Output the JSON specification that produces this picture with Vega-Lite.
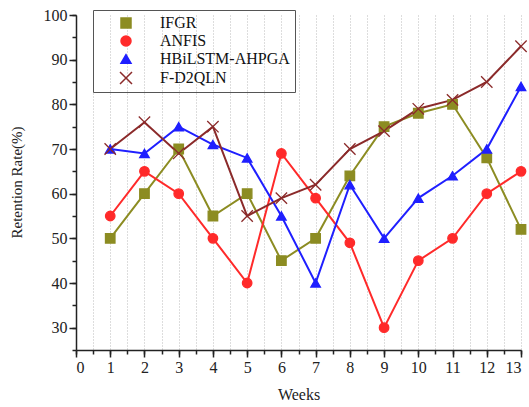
{
  "$schema": "https://vega.github.io/schema/vega-lite/v6.json",
  "width": 445,
  "height": 335,
  "autosize": {"type": "none"},
  "padding": {"left": 76, "top": 15, "right": 8, "bottom": 57},
  "background": "white",
  "config": {
    "view": {"stroke": null},
    "font": "Liberation Serif",
    "axis": {"labelFont": "Liberation Serif", "titleFont": "Liberation Serif", "labelColor": "#222", "titleColor": "#222", "titleFontWeight": "normal"}
  },
  "data": {
    "values": [
      {"week": 1, "model": "IFGR", "rate": 50}, {"week": 2, "model": "IFGR", "rate": 60}, {"week": 3, "model": "IFGR", "rate": 70}, {"week": 4, "model": "IFGR", "rate": 55}, {"week": 5, "model": "IFGR", "rate": 60}, {"week": 6, "model": "IFGR", "rate": 45}, {"week": 7, "model": "IFGR", "rate": 50}, {"week": 8, "model": "IFGR", "rate": 64}, {"week": 9, "model": "IFGR", "rate": 75}, {"week": 10, "model": "IFGR", "rate": 78}, {"week": 11, "model": "IFGR", "rate": 80}, {"week": 12, "model": "IFGR", "rate": 68}, {"week": 13, "model": "IFGR", "rate": 52},
      {"week": 1, "model": "ANFIS", "rate": 55}, {"week": 2, "model": "ANFIS", "rate": 65}, {"week": 3, "model": "ANFIS", "rate": 60}, {"week": 4, "model": "ANFIS", "rate": 50}, {"week": 5, "model": "ANFIS", "rate": 40}, {"week": 6, "model": "ANFIS", "rate": 69}, {"week": 7, "model": "ANFIS", "rate": 59}, {"week": 8, "model": "ANFIS", "rate": 49}, {"week": 9, "model": "ANFIS", "rate": 30}, {"week": 10, "model": "ANFIS", "rate": 45}, {"week": 11, "model": "ANFIS", "rate": 50}, {"week": 12, "model": "ANFIS", "rate": 60}, {"week": 13, "model": "ANFIS", "rate": 65},
      {"week": 1, "model": "HBiLSTM-AHPGA", "rate": 70}, {"week": 2, "model": "HBiLSTM-AHPGA", "rate": 69}, {"week": 3, "model": "HBiLSTM-AHPGA", "rate": 75}, {"week": 4, "model": "HBiLSTM-AHPGA", "rate": 71}, {"week": 5, "model": "HBiLSTM-AHPGA", "rate": 68}, {"week": 6, "model": "HBiLSTM-AHPGA", "rate": 55}, {"week": 7, "model": "HBiLSTM-AHPGA", "rate": 40}, {"week": 8, "model": "HBiLSTM-AHPGA", "rate": 62}, {"week": 9, "model": "HBiLSTM-AHPGA", "rate": 50}, {"week": 10, "model": "HBiLSTM-AHPGA", "rate": 59}, {"week": 11, "model": "HBiLSTM-AHPGA", "rate": 64}, {"week": 12, "model": "HBiLSTM-AHPGA", "rate": 70}, {"week": 13, "model": "HBiLSTM-AHPGA", "rate": 84},
      {"week": 1, "model": "F-D2QLN", "rate": 70}, {"week": 2, "model": "F-D2QLN", "rate": 76}, {"week": 3, "model": "F-D2QLN", "rate": 69}, {"week": 4, "model": "F-D2QLN", "rate": 75}, {"week": 5, "model": "F-D2QLN", "rate": 55}, {"week": 6, "model": "F-D2QLN", "rate": 59}, {"week": 7, "model": "F-D2QLN", "rate": 62}, {"week": 8, "model": "F-D2QLN", "rate": 70}, {"week": 9, "model": "F-D2QLN", "rate": 74}, {"week": 10, "model": "F-D2QLN", "rate": 79}, {"week": 11, "model": "F-D2QLN", "rate": 81}, {"week": 12, "model": "F-D2QLN", "rate": 85}, {"week": 13, "model": "F-D2QLN", "rate": 93}
    ]
  },
  "layer": [
    {
      "mark": {"type": "line", "strokeWidth": 2},
      "encoding": {
        "x": {"field": "week", "type": "quantitative", "scale": {"domain": [0, 13], "nice": false},
          "axis": {"orient": "bottom", "values": [0,0.5,1,1.5,2,2.5,3,3.5,4,4.5,5,5.5,6,6.5,7,7.5,8,8.5,9,9.5,10,10.5,11,11.5,12,12.5,13], "labels": false, "domain": false, "tickSize": 4, "tickWidth": 1.5, "tickColor": "#222", "grid": true, "gridDash": [1, 2], "gridColor": "#bbbbbb", "gridWidth": 1, "title": null}},
        "y": {"field": "rate", "type": "quantitative", "scale": {"domain": [25, 100], "nice": false, "zero": false},
          "axis": {"orient": "left", "values": [25,30,35,40,45,50,55,60,65,70,75,80,85,90,95,100], "labels": false, "domain": false, "tickSize": 4, "tickWidth": 1.5, "tickColor": "#222", "grid": false, "title": null}},
        "color": {"field": "model", "type": "nominal", "scale": {"domain": ["IFGR", "ANFIS", "HBiLSTM-AHPGA", "F-D2QLN"], "range": ["#8c8c22", "#ff2a2a", "#1f1fff", "#8b2a2a"]}}
      }
    },
    {
      "mark": {"type": "point", "filled": true, "opacity": 1, "strokeWidth": 1.3},
      "encoding": {
        "x": {"field": "week", "type": "quantitative",
          "axis": {"orient": "bottom", "values": [0,1,2,3,4,5,6,7,8,9,10,11,12,13], "tickSize": 7, "tickWidth": 1.5, "tickColor": "#222", "domainColor": "#222", "domainWidth": 1.5, "labelFontSize": 16, "labelPadding": 2, "grid": false, "title": "Weeks", "titleFontSize": 16, "titlePadding": 11}},
        "y": {"field": "rate", "type": "quantitative",
          "axis": {"orient": "left", "values": [30,40,50,60,70,80,90,100], "tickSize": 7, "tickWidth": 1.5, "tickColor": "#222", "domainColor": "#222", "domainWidth": 1.5, "labelFontSize": 16, "labelPadding": 2, "grid": false, "title": "Retention Rate(%)", "titleFontSize": 15, "titleX": -52, "titleY": 167}},
        "color": {"field": "model", "type": "nominal",
          "legend": {
            "title": null, "orient": "none", "legendX": 17, "legendY": -5,
            "strokeColor": "#555", "padding": 5, "labelFont": "Liberation Serif", "labelFontSize": 16, "labelColor": "#111",
            "symbolSize": 100, "symbolOffset": 20, "labelOffset": 26, "rowPadding": 2, "symbolOpacity": 1
          }},
        "stroke": {"field": "model", "type": "nominal", "scale": {"domain": ["IFGR", "ANFIS", "HBiLSTM-AHPGA", "F-D2QLN"], "range": ["#8c8c22", "#ff2a2a", "#1f1fff", "#8b2a2a"]}, "legend": null},
        "shape": {"field": "model", "type": "nominal", "scale": {"domain": ["IFGR", "ANFIS", "HBiLSTM-AHPGA", "F-D2QLN"], "range": ["square", "circle", "triangle-up", "M-1.2,-1.2L1.2,1.2M-1.2,1.2L1.2,-1.2"]}, "legend": null},
        "size": {"value": 90}
      }
    }
  ],
  "resolve": {"axis": {"x": "independent", "y": "independent"}}
}
